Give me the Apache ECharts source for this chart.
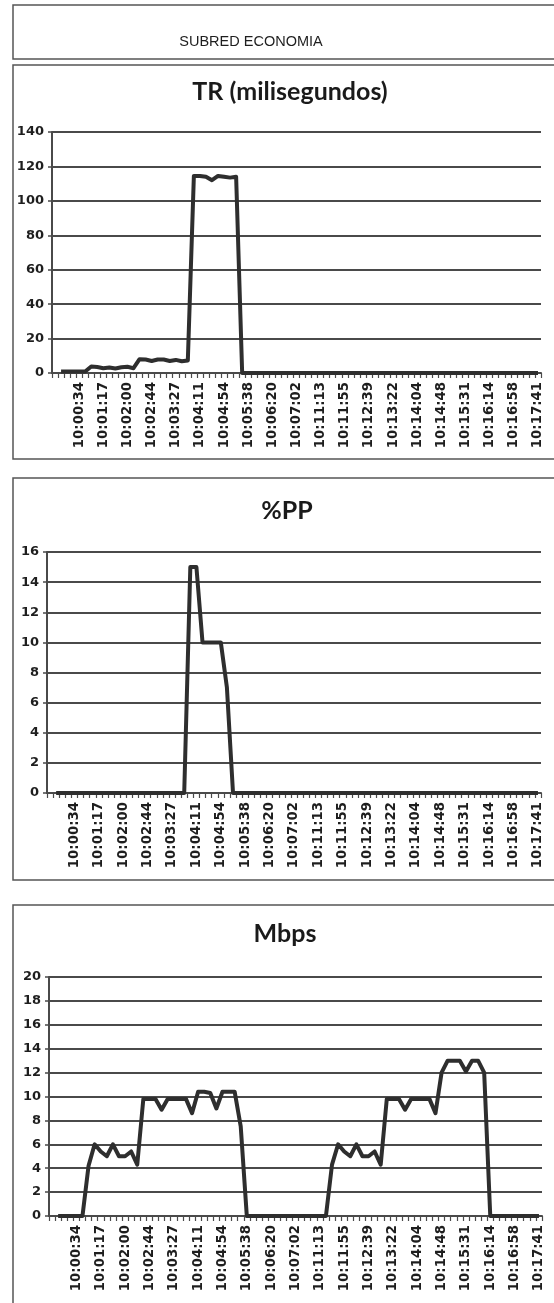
<!DOCTYPE html>
<html>
<head>
<meta charset="utf-8">
<script src="https://cdn.jsdelivr.net/npm/echarts@6/dist/echarts.min.js"></script>
<style>
html,body{margin:0;padding:0;background:#fff;}
#c{width:554px;height:1303px;}
</style>
</head>
<body>
<div id="c"></div>
<script>
// Tick labels shown on the category axes (every 4th category)
var tickLabels = ['10:00:34','10:01:17','10:02:00','10:02:44','10:03:27','10:04:11','10:04:54','10:05:38','10:06:20','10:07:02',
  '10:11:13','10:11:55','10:12:39','10:13:22','10:14:04','10:14:48','10:15:31','10:16:14','10:16:58','10:17:41'];
var categoryCount = 81;
var labelStep = 4;

// TR (milisegundos)
var trValues = [null,
  0.8,0.8,0.9,0.8,0.9,
  3.8,3.5,2.8,3.2,2.6,3.3,3.6,2.8,
  8,7.8,7,7.8,7.8,7,7.6,6.8,7.3,
  114.5,114.5,114,112,114.5,114,113.5,114,
  0,0,0,0,0,0,0,0,0,0,0,0,0,0,0,0,0,0,0,0,0,0,0,0,0,
  0,0,0,0,0,0,0,0,0,0,0,0,0,0,0,0,0,0,0,0,0,0,0,0,0];

// %PP
var ppValues = [null,
  0,0,0,0,0,0,0,0,0,0,0,0,0,0,0,0,0,0,0,0,0,0,
  15,15,10,10,10,10,7,
  0,0,0,0,0,0,0,0,0,0,0,0,0,0,0,0,0,0,0,0,0,0,0,0,0,0,
  0,0,0,0,0,0,0,0,0,0,0,0,0,0,0,0,0,0,0,0,0,0,0,0,0];

// Mbps
var mbpsValues = [null,
  0,0,0,0,0,
  4.2,6,5.4,5.0,6.0,5.0,5.0,5.4,4.3,
  9.8,9.8,9.8,8.9,9.8,9.8,9.8,9.8,8.6,
  10.4,10.4,10.3,9.0,10.4,10.4,10.4,7.5,
  0,0,0,0,0,0,0,0,0,0,0,0,0,0,
  4.3,6,5.4,5.0,6.0,5.0,5.0,5.4,4.3,
  9.8,9.8,9.8,8.9,9.8,9.8,9.8,9.8,8.6,
  12,13,13,13,12.1,13,13,12,
  0,0,0,0,0,0,0,0,0];

var headerText = 'SUBRED ECONOMIA';
var chartTitles = ['TR (milisegundos)', '%PP', 'Mbps'];

var categories = [];
for (var i = 0; i < categoryCount; i++) {
  var k = i / labelStep;
  categories.push(i > 0 && i % labelStep === 0 ? tickLabels[k - 1] : '');
}

var dark = '#2e2e2e';
var gridColor = '#4a4a4a';

function xAxisCfg(idx) {
  return {
    type: 'category', gridIndex: idx, data: categories, boundaryGap: true,
    axisLine: {show: true, lineStyle: {color: gridColor, width: 2}},
    axisTick: {show: true, interval: 0, length: 5, lineStyle: {color: gridColor, width: 1.2}},
    axisLabel: {
      rotate: 90, margin: 9, color: '#1e1e1e',
      fontFamily: 'DejaVu Sans', fontWeight: 'bold', fontSize: 13.3,
      interval: function (i) { return i > 0 && i % labelStep === 0; }
    },
    splitLine: {show: false}
  };
}
function yAxisCfg(idx, max, step) {
  return {
    type: 'value', gridIndex: idx, min: 0, max: max, interval: step,
    axisLine: {show: true, lineStyle: {color: gridColor, width: 2}},
    axisTick: {show: true, length: 4, lineStyle: {color: gridColor, width: 1.5}},
    axisLabel: {margin: 8, color: '#1e1e1e', fontFamily: 'DejaVu Sans', fontWeight: 'bold', fontSize: 13},
    splitLine: {show: true, lineStyle: {color: gridColor, width: 2}}
  };
}
function seriesCfg(idx, data) {
  return {
    type: 'line', xAxisIndex: idx, yAxisIndex: idx, data: data,
    showSymbol: false, symbol: 'none', connectNulls: false, silent: true,
    lineStyle: {color: dark, width: 4, join: 'round'}
  };
}

var boxStyle = {fill: 'none', stroke: '#555', lineWidth: 1.5};
var titleFont = 'bold 25px Lato';

var option = {
  animation: false,
  backgroundColor: '#fff',
  grid: [
    {left: 52, right: 13, top: 132, height: 241},
    {left: 47, right: 13, top: 552, height: 241},
    {left: 49, right: 12, top: 977, height: 239}
  ],
  xAxis: [xAxisCfg(0), xAxisCfg(1), xAxisCfg(2)],
  yAxis: [yAxisCfg(0, 140, 20), yAxisCfg(1, 16, 2), yAxisCfg(2, 20, 2)],
  series: [seriesCfg(0, trValues), seriesCfg(1, ppValues), seriesCfg(2, mbpsValues)],
  graphic: [
    {type: 'rect', shape: {x: 13, y: 5, width: 560, height: 54}, style: boxStyle, silent: true},
    {type: 'rect', shape: {x: 13, y: 65, width: 560, height: 394}, style: boxStyle, silent: true},
    {type: 'rect', shape: {x: 13, y: 478, width: 560, height: 402}, style: boxStyle, silent: true},
    {type: 'rect', shape: {x: 13, y: 905, width: 560, height: 420}, style: boxStyle, silent: true},
    {type: 'text', x: 251, y: 42, style: {text: headerText, font: '14.5px "Liberation Sans"', fill: '#1e1e1e', align: 'center', verticalAlign: 'middle'}},
    {type: 'text', x: 290, y: 92, style: {text: chartTitles[0], font: titleFont, fill: '#1a1a1a', align: 'center', verticalAlign: 'middle'}},
    {type: 'text', x: 287, y: 511, style: {text: chartTitles[1], font: titleFont, fill: '#1a1a1a', align: 'center', verticalAlign: 'middle'}},
    {type: 'text', x: 285, y: 934, style: {text: chartTitles[2], font: titleFont, fill: '#1a1a1a', align: 'center', verticalAlign: 'middle'}}
  ]
};

var chart = echarts.init(document.getElementById('c'), null, {renderer: 'canvas'});
chart.setOption(option);
</script>
</body>
</html>
